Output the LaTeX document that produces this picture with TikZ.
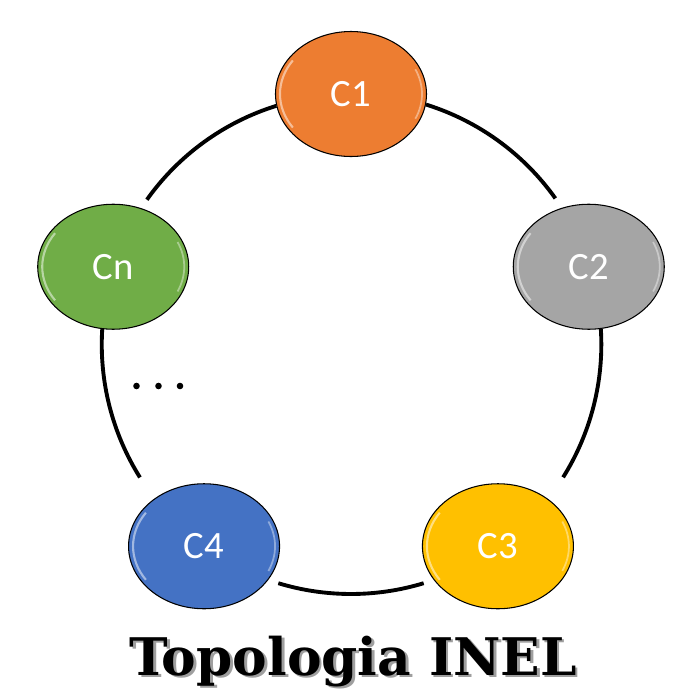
\documentclass[tikz,border=0pt]{standalone}
\usepackage{fontspec}
\newfontfamily\labelfont{Carlito}
\newfontfamily\titlefont{DejaVu Serif}
\usetikzlibrary{shapes.geometric}

\definecolor{corange}{HTML}{ED7D31}
\definecolor{cgray}{HTML}{A5A5A5}
\definecolor{cgold}{HTML}{FFC000}
\definecolor{cblue}{HTML}{4472C4}
\definecolor{cgreen}{HTML}{70AD47}

\tikzset{
  cnode/.style = {ellipse, draw = black, line width = 0.6pt, inner sep = 0pt,
    minimum width = 3.02cm, minimum height = 2.5cm, text = white,
    font = \labelfont\fontsize{22}{26}\selectfont,
    path picture = {
      \draw[white, opacity = .5, line width = 1.2pt] (path picture bounding box.center)
        ++(145:1.42cm and 1.17cm) arc[start angle = 145, end angle = 215, x radius = 1.42cm, y radius = 1.17cm];
      \draw[white, opacity = .4, line width = 1pt] (path picture bounding box.center)
        ++(-25:1.42cm and 1.17cm) arc[start angle = -25, end angle = 25, x radius = 1.42cm, y radius = 1.17cm];
    }},
  link/.style = {line width = 2.2pt},
  titletext/.style = {font = \titlefont\bfseries\fontsize{29.5}{34}\selectfont, anchor = base}
}

\begin{document}
\begin{tikzpicture}

      \useasboundingbox (-7.02, -7.02) rectangle (6.8, 6.88);

      \node[cnode, fill = corange] (c1) at (90:5) {C1};
      \node[cnode, fill = cgray] (c2) at (18:5) {C2};
      \node[cnode, fill = cgold] (c3) at (-54:5) {C3};
      \node[cnode, fill = cblue] (c4) at (-126:5) {C4};
      \node[cnode, fill = cgreen] (cn) at (162:5) {Cn};
      \coordinate (gap3) at (-73.1:5);

      \draw[link] (c1.-8.7) arc[start angle = 72.7, end angle = 35.4, radius = 5];
      \draw[link] (c2.-79.2) arc[start angle = 3.55, end angle = -32.1, radius = 5];
      \draw[link] (gap3) arc[start angle = -73.1, end angle = -106.9, radius = 5];
      \draw[link] (cn.-100.8) arc[start angle = 176.45, end angle = 212.1, radius = 5];
      \draw[link] (c1.-171.3) arc[start angle = 107.3, end angle = 144.6, radius = 5];

      \foreach \x in {-4.29, -3.85, -3.42}
        \fill (\x, -0.84) circle (0.066);

      \node[titletext, text = gray!75] (titleshadow) at (0.095, -6.675) {Topologia INEL};
      \node[titletext, text = black] (title) at (0.04, -6.62) {Topologia INEL};

    \end{tikzpicture}
\end{document}
